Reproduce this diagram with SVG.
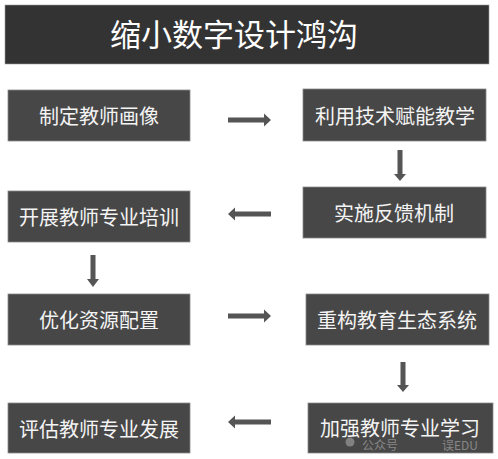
<svg xmlns="http://www.w3.org/2000/svg" width="498" height="459" viewBox="0 0 498 459">
<defs>
<style>
.box{fill:#474747;stroke:#8a8a8a;stroke-width:0.8}
.lbl{font-family:"Noto Sans CJK SC","Noto Sans",sans-serif;font-size:20px;fill:#f4f4f4;text-anchor:middle}
.arr{fill:#555555}
.wm{font-family:"Noto Sans CJK SC","Noto Sans",sans-serif;font-size:12px;fill:#bbbbbb;opacity:0.55}
</style>
</defs>
<rect x="0" y="0" width="498" height="459" fill="#ffffff"/>
<g id="title">
<rect x="5" y="5" width="484" height="59" fill="#333333" stroke="#9a9a9a" stroke-width="0.6"/>
<text x="234" y="46" style="font-family:'Noto Sans CJK SC','Noto Sans',sans-serif;font-size:31px;fill:#ffffff;text-anchor:middle">缩小数字设计鸿沟</text>
</g>
<g id="n1"><rect class="box" x="8" y="90" width="182" height="51"/><text class="lbl" x="99" y="124">制定教师画像</text></g>
<g id="n2"><rect class="box" x="303" y="89" width="183" height="52"/><text class="lbl" x="395" y="124">利用技术赋能教学</text></g>
<g id="n3"><rect class="box" x="303" y="187" width="183" height="51"/><text class="lbl" x="394" y="221">实施反馈机制</text></g>
<g id="n4"><rect class="box" x="8" y="191" width="182" height="51"/><text class="lbl" x="99" y="225">开展教师专业培训</text></g>
<g id="n5"><rect class="box" x="8" y="294" width="182" height="51"/><text class="lbl" x="99" y="328">优化资源配置</text></g>
<g id="n6"><rect class="box" x="306" y="294" width="183" height="51"/><text class="lbl" x="397" y="328">重构教育生态系统</text></g>
<g id="n7"><rect class="box" x="308" y="403" width="185" height="50"/><text class="lbl" x="400" y="436">加强教师专业学习</text></g>
<g id="n8"><rect class="box" x="8" y="403" width="182" height="50"/><text class="lbl" x="99" y="437">评估教师专业发展</text></g>
<g id="connectors">
<polygon class="arr" points="228,117.5 264,117.5 264,113.5 271,120 264,126.5 264,122.5 228,122.5"/>
<polygon class="arr" points="397.5,150 402.5,150 402.5,174 406,174 400,181 394,174 397.5,174"/>
<polygon class="arr" points="271,211.5 235,211.5 235,207.5 228,214 235,220.5 235,216.5 271,216.5"/>
<polygon class="arr" points="90.5,255 95.5,255 95.5,279 99,279 93,287 87,279 90.5,279"/>
<polygon class="arr" points="228,313.5 264,313.5 264,309.5 271,316 264,322.5 264,318.5 228,318.5"/>
<polygon class="arr" points="400.5,362 405.5,362 405.5,385 409,385 403,392 397,385 400.5,385"/>
<polygon class="arr" points="271,419.5 235,419.5 235,415.5 228,422 235,428.5 235,424.5 271,424.5"/>
</g>
<g id="watermark">
<circle cx="350" cy="442" r="4.5" fill="#bbbbbb" opacity="0.5"/>
<text class="wm" x="362" y="450">公众号</text>
<text class="wm" x="442" y="450">误EDU</text>
</g>
</svg>
